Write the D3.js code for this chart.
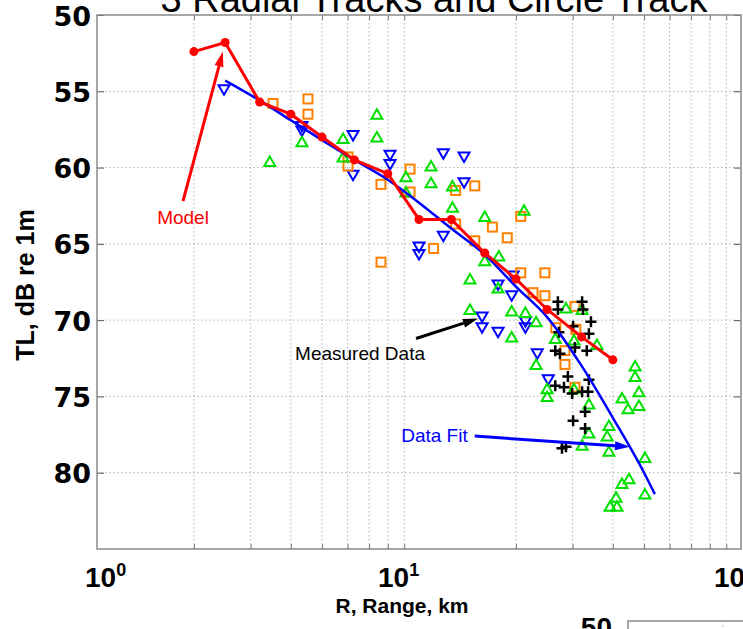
<!DOCTYPE html>
<html><head><meta charset="utf-8">
<script src="https://cdn.jsdelivr.net/npm/d3@7"></script>
<style>body{margin:0;background:#fff;overflow:hidden} svg{display:block;font-family:"Liberation Sans",Arial,Helvetica,sans-serif}</style>
</head><body><svg id="c" width="743" height="629"></svg>
<script>
// ---------------- data ----------------
const title = "3 Radial Tracks and Circle Track";
const xLabel = "R, Range, km";
const yLabel = "TL, dB re 1m";
const yTicks = [50, 55, 60, 65, 70, 75, 80];
const xTickExps = [0, 1, 2];

// Model (red line with dots)
const modelR  = [2, 2.5, 3.2, 4, 5, 6.3, 8, 10, 12.6, 16, 20, 25, 32, 40];
const modelTL = [52.4, 51.8, 55.7, 56.5, 58.0, 59.5, 60.4, 63.4, 63.4, 65.6, 67.3, 69.3, 71.1, 72.6];

// Data fit (blue curve)
const fitR  = [2.5, 3.2, 4, 5, 6.3, 8, 10, 12.6, 16, 20, 25, 32, 40, 50, 54];
const fitTL = [54.3, 55.6, 56.9, 58.2, 59.5, 60.8, 62.3, 64.0, 65.7, 67.8, 69.8, 73.0, 76.4, 80.0, 81.4];

// Measured data, radial track 1 (blue down-triangles)
const trackBlue = [[2.48,54.9],[4.33,57.3],[4.33,57.6],[6.24,57.9],[6.24,60.5],[8.13,59.2],[8.13,59.8],
  [10.0,65.2],[10.0,65.7],[11.9,59.1],[13.8,59.3],[13.8,61.0],[11.9,64.5],[17.6,67.7],[19.4,68.4],
  [15.7,69.8],[15.7,70.5],[17.6,70.8],[21.4,70.1],[21.4,70.5],[23.3,72.2],[25.2,73.9],[19.6,67.1]];

// Measured data, radial track 2 (orange squares)
const trackOrange = [[3.52,55.8],[4.52,55.5],[4.52,56.5],[6.02,59.3],[6.02,59.9],[7.62,61.1],[7.62,66.2],
  [9.38,60.1],[9.38,61.6],[11.1,65.3],[13.0,61.5],[14.9,61.2],[13.0,63.7],[16.9,63.9],[14.9,64.8],
  [18.8,64.6],[20.7,63.2],[20.7,66.9],[24.6,66.9],[22.6,68.2],[24.6,68.4],[30.5,69.1],[26.6,70.5],
  [30.7,70.6],[28.4,72.0],[28.4,72.9],[30.5,74.4]];

// Measured data, radial track 3 (green up-triangles)
const trackGreen = [[3.44,59.6],[4.33,58.3],[5.81,58.1],[5.81,59.3],[7.40,56.5],[7.40,58.0],[9.11,60.6],
  [9.11,61.6],[10.9,59.9],[10.9,61.0],[12.7,61.2],[12.7,62.6],[16.0,63.2],[21.2,62.8],[17.7,65.8],
  [16.0,66.1],[14.4,67.3],[17.6,67.9],[14.4,69.3],[19.4,69.4],[21.4,69.5],[23.1,70.1],[19.4,71.1],
  [28.6,69.2],[32.1,69.3],[26.5,71.2],[30.3,71.3],[35.7,71.6],[23.1,72.9],[25.0,74.5],[25.0,75.0],
  [30.3,74.5],[46.9,73.0],[46.9,73.7],[42.7,75.1],[44.6,75.8],[48.2,75.6],[48.2,74.7],[33.7,75.5],
  [38.9,76.9],[38.4,77.6],[33.7,77.4],[32.1,78.2],[38.9,78.6],[50.3,79.0],[42.7,80.7],[44.9,80.4],
  [40.9,81.6],[39.2,82.2],[41.2,82.2],[50.3,81.4]];

// Measured data, circle track (black plus)
const trackCircle = [[27.0,68.8],[32.1,68.8],[27.0,69.3],[32.3,69.3],[34.2,70.1],[30.1,70.4],[27.2,70.8],
  [33.7,70.9],[30.5,71.8],[33.2,72.0],[26.5,72.0],[27.4,72.2],[29.0,73.7],[33.7,73.9],[26.5,74.3],
  [28.2,74.4],[29.9,74.8],[32.1,74.7],[33.5,74.7],[32.8,76.0],[30.1,76.6],[32.8,77.1],[27.8,78.4],[28.6,78.3]];

// Annotations: label, label anchor (R, TL), arrow tail (R, TL), arrow tip (R, TL)
const annotations = [
  {text: "Model",         color: "#ff0000", at: [1.85, 63.7],  from: [1.85, 62.2], to: [2.46, 52.4]},
  {text: "Measured Data", color: "#000000", at: [6.56, 72.6],  from: [9.79, 71.2], to: [15.25, 69.9]},
  {text: "Data Fit",      color: "#0000ff", at: [11.17, 78.0], from: [14.9, 77.6], to: [45.2, 78.3]}
];

// ---------------- drawing ----------------
const svg = d3.select("#c");
const x = d3.scaleLog().domain([1, 100]).range([97, 741]);
const y = d3.scaleLinear().domain([50, 85]).range([15, 549]);
const xLabelNudge = [15, -14, 0];   // layout: horizontal shift of each decade label

const minor = [];
[1, 10].forEach(d => { for (let k = 2; k <= 9; k++) minor.push(k * d); });

// grid
const grid = svg.append("g").attr("stroke", "#b4b4b4").attr("stroke-width", 1).attr("stroke-dasharray", "1.5,2.5");
grid.selectAll("line.v").data(minor).join("line")
  .attr("x1", d => x(d)).attr("x2", d => x(d)).attr("y1", y(50)).attr("y2", y(85));
grid.selectAll("line.h").data(yTicks.filter(v => v > 50)).join("line")
  .attr("x1", x(1)).attr("x2", x(100)).attr("y1", d => y(d)).attr("y2", d => y(d));

// left axis (labels + inward ticks)
const yAxis = svg.append("g").attr("transform", `translate(${x(1)},0)`)
  .call(d3.axisLeft(y).tickValues(yTicks).tickSize(-7).tickPadding(6));
yAxis.select(".domain").remove();
yAxis.selectAll("line").attr("stroke", "#555");
yAxis.selectAll("text").attr("font-size", 27).attr("font-weight", "bold").attr("fill", "#000")
  .attr("font-family", '"DejaVu Sans",Verdana,sans-serif').attr("dy", "0.37em");

// right axis ticks
const yAxisR = svg.append("g").attr("transform", `translate(${x(100)},0)`)
  .call(d3.axisRight(y).tickValues(yTicks).tickSize(-7).tickFormat(""));
yAxisR.select(".domain").remove();
yAxisR.selectAll("line").attr("stroke", "#555");

// bottom / top minor ticks
const xAxis = svg.append("g").attr("transform", `translate(0,${y(85)})`)
  .call(d3.axisBottom(x).tickValues(minor).tickSize(-5).tickFormat(""));
xAxis.select(".domain").remove();
xAxis.selectAll("line").attr("stroke", "#777");
const xTop = svg.append("g").attr("transform", `translate(0,${y(50)})`)
  .call(d3.axisTop(x).tickValues(minor).tickSize(-5).tickFormat(""));
xTop.select(".domain").remove();
xTop.selectAll("line").attr("stroke", "#777");

// decade labels
const xl = svg.append("g");
xTickExps.forEach((e, i) => {
  const t = xl.append("text").attr("x", x(Math.pow(10, e)) - 27 + xLabelNudge[i]).attr("y", 587)
    .attr("font-size", 28).attr("font-weight", "bold");
  t.append("tspan").text("10");
  t.append("tspan").attr("font-size", 18).attr("dy", -11).text(String(e));
});

// border
svg.append("rect").attr("x", x(1)).attr("y", y(50)).attr("width", x(100) - x(1)).attr("height", y(85) - y(50))
  .attr("fill", "none").attr("stroke", "#8a8a8a").attr("stroke-width", 1.5);

// titles
svg.append("text").attr("x", 434).attr("y", 12).attr("text-anchor", "middle").attr("font-size", 38).text(title);
svg.append("text").attr("x", 402).attr("y", 613).attr("text-anchor", "middle").attr("font-size", 21)
  .attr("font-weight", "bold").text(xLabel);
svg.append("text").attr("transform", "translate(34,285) rotate(-90)").attr("text-anchor", "middle")
  .attr("font-size", 25).attr("font-weight", "bold").text(yLabel);

// scatter
const pts = svg.append("g").attr("fill", "none").attr("stroke-width", 2);
pts.selectAll("path.b").data(trackBlue).join("path")
  .attr("d", "M0,5L5.5,-4.5L-5.5,-4.5Z").attr("stroke", "#0000ff")
  .attr("transform", d => `translate(${x(d[0])},${y(d[1])})`);
pts.selectAll("rect.o").data(trackOrange).join("rect")
  .attr("x", d => x(d[0]) - 4.5).attr("y", d => y(d[1]) - 4.5).attr("width", 9).attr("height", 9)
  .attr("stroke", "#ff8000");
pts.selectAll("path.g").data(trackGreen).join("path")
  .attr("d", "M0,-5L5.5,4.5L-5.5,4.5Z").attr("stroke", "#00e000")
  .attr("transform", d => `translate(${x(d[0])},${y(d[1])})`);
pts.selectAll("path.k").data(trackCircle).join("path")
  .attr("d", "M-5.5,0H5.5M0,-5.5V5.5").attr("stroke", "#000").attr("stroke-width", 2.5)
  .attr("transform", d => `translate(${x(d[0])},${y(d[1])})`);

// fit line
const fit = fitR.map((r, i) => [r, fitTL[i]]);
svg.append("path").datum(fit)
  .attr("d", d3.line().x(d => x(d[0])).y(d => y(d[1])).curve(d3.curveMonotoneX))
  .attr("fill", "none").attr("stroke", "#0000ff").attr("stroke-width", 2.5);

// model
const model = modelR.map((r, i) => [r, modelTL[i]]);
svg.append("path").datum(model)
  .attr("d", d3.line().x(d => x(d[0])).y(d => y(d[1])))
  .attr("fill", "none").attr("stroke", "#ff0000").attr("stroke-width", 3);
svg.append("g").selectAll("circle").data(model).join("circle")
  .attr("cx", d => x(d[0])).attr("cy", d => y(d[1])).attr("r", 4.5).attr("fill", "#ff0000");

// annotations
annotations.forEach(a => {
  const x1 = x(a.from[0]), y1 = y(a.from[1]), x2 = x(a.to[0]), y2 = y(a.to[1]);
  const ang = Math.atan2(y2 - y1, x2 - x1), L = 15, W = 4.5;
  const bx = x2 - L * Math.cos(ang), by = y2 - L * Math.sin(ang);
  svg.append("line").attr("x1", x1).attr("y1", y1).attr("x2", bx).attr("y2", by)
    .attr("stroke", a.color).attr("stroke-width", 3);
  svg.append("path").attr("fill", a.color)
    .attr("d", `M${x2},${y2}L${bx + W * Math.sin(ang)},${by - W * Math.cos(ang)}L${bx - W * Math.sin(ang)},${by + W * Math.cos(ang)}Z`);
  svg.append("text").attr("x", x(a.at[0])).attr("y", y(a.at[1])).attr("text-anchor", "middle")
    .attr("font-size", 19).attr("fill", a.color).text(a.text);
});

// fragment of the next subplot below (as in the reference)
svg.append("text").attr("x", 612).attr("y", 637).attr("text-anchor", "end").attr("font-size", 28)
  .attr("font-weight", "bold").text("50");
svg.append("path").attr("d", "M628,629V621H743").attr("fill", "none").attr("stroke", "#8a8a8a").attr("stroke-width", 1.5);
svg.append("line").attr("x1", 723).attr("x2", 723).attr("y1", 621).attr("y2", 629)
  .attr("stroke", "#b4b4b4").attr("stroke-dasharray", "1.5,2.5");
</script></body></html>
